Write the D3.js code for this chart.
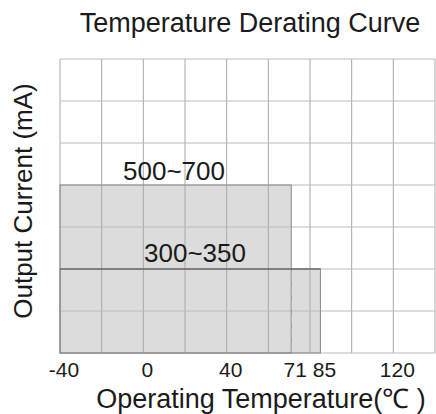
<!DOCTYPE html>
<html><head><meta charset="utf-8">
<script src="https://cdn.jsdelivr.net/npm/d3@7/dist/d3.min.js"></script>
<style>body{margin:0;background:#fff}svg{display:block}text{font-family:"Liberation Sans",Arial,sans-serif;fill:#1a1a1a}</style>
</head><body><svg id="c" width="436" height="414"></svg>
<script>
// Data
const xDomain = [-40, 140];
const yDomain = [0, 7];           // relative current levels (grid rows)
const xGrid = [-40, -20, 0, 20, 40, 60, 80, 100, 120, 140];
const yGrid = [0, 1, 2, 3, 4, 5, 6, 7];
const tickLabels = [-40, 0, 40, 71, 85, 120];
const seriesNames = ["500~700", "300~350"];
const seriesEndTemp = [71, 85];
const seriesLevel = [4, 2];
const startTemp = -40;

const svg = d3.select("#c");
const m = {l: 60, r: 1, t: 59, b: 61};
const W = 436 - m.l - m.r, H = 414 - m.t - m.b;
const x = d3.scaleLinear().domain(xDomain).range([m.l, m.l + W]);
const y = d3.scaleLinear().domain(yDomain).range([m.t + H, m.t]);

const bars = seriesNames.map((n, i) => ({name: n, end: seriesEndTemp[i], level: seriesLevel[i]}));
svg.selectAll("rect.bar").data(bars).join("rect")
  .attr("x", x(startTemp)).attr("y", d => y(d.level))
  .attr("width", d => x(d.end) - x(startTemp)).attr("height", d => y(0) - y(d.level))
  .attr("fill", "#dcdcdc");

// grid
svg.append("g").selectAll("line").data(xGrid).join("line")
  .attr("x1", d => x(d)).attr("x2", d => x(d)).attr("y1", y(7)).attr("y2", y(0))
  .attr("stroke", "#a8a8a8").attr("stroke-width", 1);
svg.append("g").selectAll("line").data(yGrid).join("line")
  .attr("x1", x(-40)).attr("x2", x(140)).attr("y1", d => y(d)).attr("y2", d => y(d))
  .attr("stroke", "#bcbcbc").attr("stroke-width", 1);

// bar outlines
svg.selectAll("rect.ol").data(bars).join("rect")
  .attr("x", x(startTemp)).attr("y", d => y(d.level))
  .attr("width", d => x(d.end) - x(startTemp)).attr("height", d => y(0) - y(d.level))
  .attr("fill", "none").attr("stroke", "#8a8a8a").attr("stroke-width", 1);
svg.append("line").attr("x1", x(startTemp)).attr("x2", x(bars[1].end))
  .attr("y1", y(bars[1].level)).attr("y2", y(bars[1].level)).attr("stroke", "#555");
svg.append("line").attr("x1", x(bars[0].end)).attr("x2", x(bars[0].end))
  .attr("y1", y(bars[1].level) + 4).attr("y2", y(0))
  .attr("stroke", "#b4b4b4").attr("stroke-width", 1.5).attr("stroke-dasharray", "8,6");

// bar labels
svg.append("text").attr("x", x(startTemp) + 63).attr("y", y(bars[0].level) - 5).attr("font-size", 26).text(seriesNames[0]);
svg.append("text").attr("x", x(startTemp) + 84).attr("y", y(bars[1].level) - 7).attr("font-size", 26).text(seriesNames[1]);

// tick labels
svg.append("g").selectAll("text").data(tickLabels).join("text")
  .attr("x", d => x(d) + 4).attr("y", 377).attr("text-anchor", "middle")
  .attr("font-size", 21).text(d => d);

// titles
svg.append("text").attr("x", 250).attr("y", 32).attr("text-anchor", "middle").attr("font-size", 27).text("Temperature Derating Curve");
svg.append("text").attr("x", 261).attr("y", 408).attr("text-anchor", "middle").attr("font-size", 27).text("Operating Temperature(℃ )");
svg.append("text").attr("transform", "translate(32,201) rotate(-90)").attr("text-anchor", "middle").attr("font-size", 26).text("Output Current (mA)");
</script></body></html>
